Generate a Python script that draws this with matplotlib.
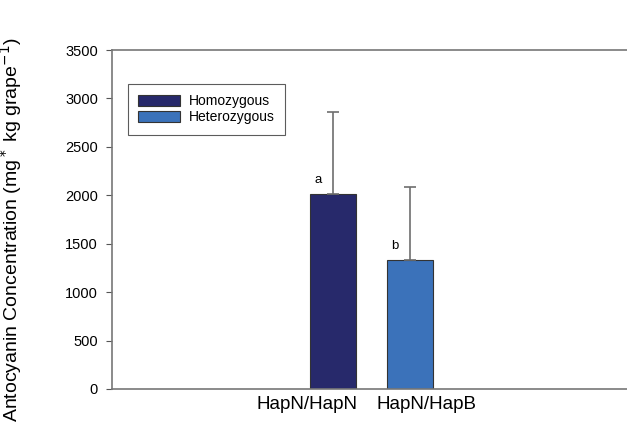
import matplotlib
matplotlib.use("Agg")
import matplotlib.pyplot as plt
from matplotlib.patches import Patch

categories = ["HapN/HapN", "HapN/HapB"]
series_names = ["Homozygous", "Heterozygous"]
values = [2010, 1330]
errors = [850, 760]
letters = ["a", "b"]
yticks = [0, 500, 1000, 1500, 2000, 2500, 3000, 3500]
colors = ["#27296b", "#3b72ba"]

plt.rcParams['font.family'] = ['Liberation Sans', 'DejaVu Sans']
fig = plt.figure(figsize=(6.27, 4.29), dpi=100)
ax = fig.add_axes([112/627, 1-389/429, (627-112)/627, (389-50)/429])

x = [0, 1]
ax.bar(x, values, width=0.6, color=colors, edgecolor="#333333", linewidth=0.8, zorder=2)
ax.errorbar(x, values, yerr=[[0, 0], errors], fmt='none', ecolor="#6e6e6e",
            elinewidth=1.2, capsize=4, capthick=1.2, zorder=3)
for xi, v, l in zip(x, values, letters):
    ax.annotate(l, (xi, v), xytext=(-11, 10), textcoords='offset points',
                ha='center', va='center', fontsize=9.5)

ax.set_xlim(-2.87, 3.82)
ax.set_ylim(0, 3500)
ax.set_yticks(yticks)
ax.tick_params(axis='y', labelsize=10.5, length=4, pad=6, color="#555555")
ax.set_xticks([-0.34, 1.22])
ax.set_xticklabels(categories, fontsize=13.5)
ax.tick_params(axis='x', length=0, pad=5)
ax.spines['right'].set_visible(False)
for s in ['left', 'top', 'bottom']:
    ax.spines[s].set_color("#777777")
    ax.spines[s].set_linewidth(1.2)

ax.set_ylabel(r"Antocyanin Concentration (mg$^*$ kg grape$^{-1}$)", fontsize=14)
ax.yaxis.set_label_coords(-0.17, 0.47)

handles = [Patch(facecolor=c, edgecolor="#333333", linewidth=0.8) for c in colors]
leg = ax.legend(handles, series_names, loc='upper left', bbox_to_anchor=(0.031, 0.9),
                borderaxespad=0, fontsize=10, frameon=True, fancybox=False,
                edgecolor="#333333", handlelength=3.0, handleheight=0.8,
                handletextpad=0.6, labelspacing=0.15, borderpad=0.75)
leg.get_frame().set_linewidth(0.8)

fig.savefig("out.png", dpi=100)
